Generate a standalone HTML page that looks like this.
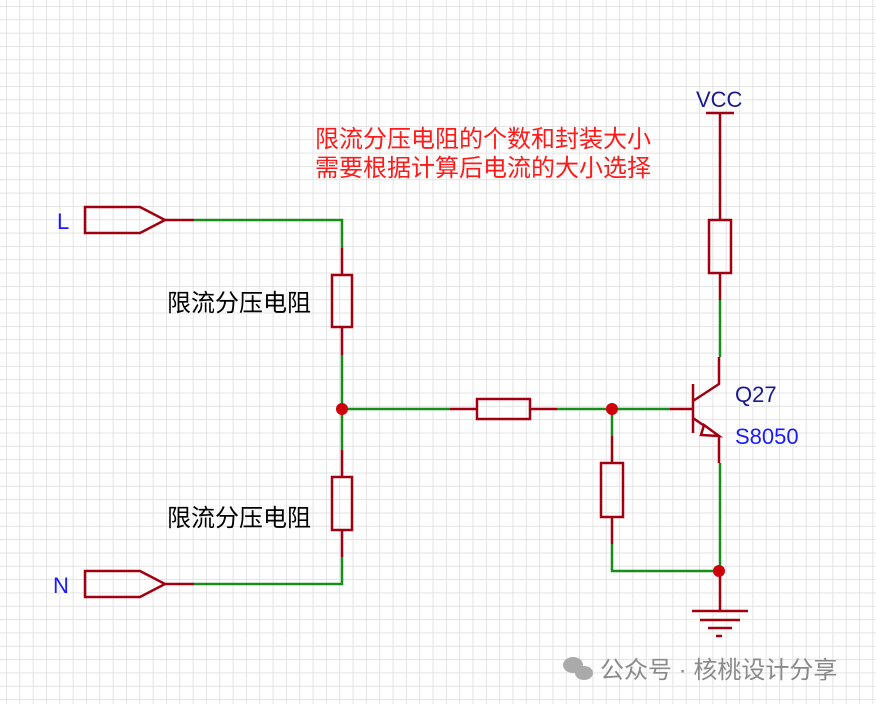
<!DOCTYPE html><html><head><style>
body{margin:0;width:876px;height:704px;overflow:hidden;background:#fff;
background-image:linear-gradient(#e3e3e3 1px,transparent 1px),linear-gradient(90deg,#e3e3e3 1px,transparent 1px);
background-size:13.33px 13.33px;background-position:6px 6px;}
</style></head><body>
<svg width="876" height="704" style="position:absolute;left:0;top:0" font-family="Liberation Sans, Noto Sans CJK SC, sans-serif">
<g fill="none" stroke-width="2.5">
<g stroke="#a00010">
<path d="M85 207H140L165 220L140 233H85Z"/><path d="M165 220H194"/>
<path d="M85 571H140L165 584L140 597H85Z"/><path d="M165 584H194"/>
<rect x="332" y="275" width="20" height="52"/><path d="M342 248V275M342 327V355"/>
<rect x="332" y="477" width="20" height="53"/><path d="M342 450V477M342 530V557"/>
<rect x="477" y="399" width="53" height="20"/><path d="M450 409H477M530 409H557"/>
<rect x="601" y="463" width="22" height="54"/><path d="M612 436V463M612 517V544"/>
<rect x="709" y="220" width="22" height="53"/><path d="M720 113V220M720 273V300M706 113H734"/>
<path d="M670 409H693M693 384V433M693 401L719 384V357M693 418L719 436V463"/>
<path d="M704 425L719 436L701 435Z" fill="#fff"/>
<path d="M720 571V611M692 611H748M700 620H740M708 628H732M716 636H722"/>
</g>
<g stroke="#1a8c1a">
<path d="M194 220H342V248M342 355V450M342 557V584H194M342 409H450M557 409H670M612 409V436M612 544V571H720M720 300V357M720 463V571"/>
</g>
</g>
<g fill="#d0000a"><circle cx="342" cy="409" r="6"/><circle cx="612" cy="409" r="6"/><circle cx="719" cy="571" r="6"/></g>
<g font-size="24">
<text x="57" y="229" fill="#1a1aff" font-size="22">L</text>
<text x="53" y="593" fill="#1a1aff" font-size="22">N</text>
<text x="696" y="107" fill="#1a1a90" font-size="22">VCC</text>
<text x="735" y="402" fill="#1a1a90" font-size="22">Q27</text>
<text x="735" y="444" fill="#1a1aff" font-size="22">S8050</text>
<text x="167" y="311" fill="#000">限流分压电阻</text>
<text x="167" y="526" fill="#000">限流分压电阻</text>
<text x="315" y="147" fill="#ff1a1a">限流分压电阻的个数和封装大小</text>
<text x="315" y="176" fill="#ff1a1a">需要根据计算后电流的大小选择</text>
<text x="600" y="678" fill="#8a8a8a">公众号 · 核桃设计分享</text>
</g>
<g fill="#aaa"><ellipse cx="573" cy="665" rx="10" ry="8"/><ellipse cx="584" cy="673" rx="9" ry="7"/></g>
</svg>
</body></html>
